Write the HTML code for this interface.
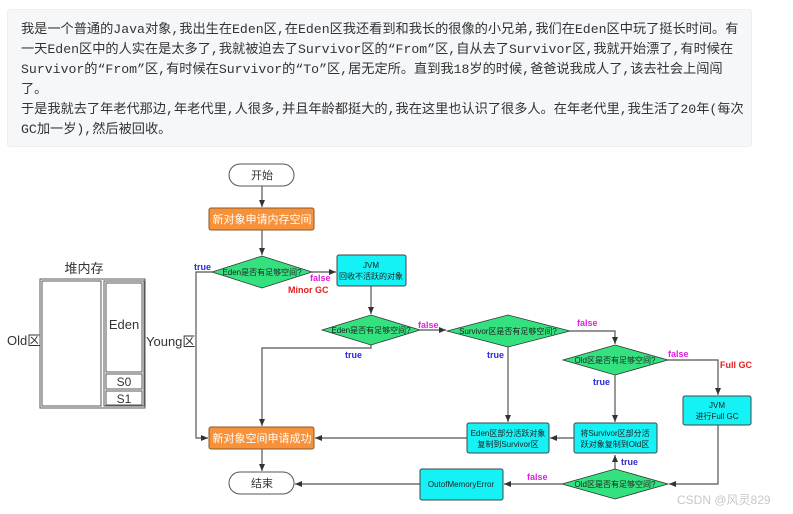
<!DOCTYPE html>
<html><head><meta charset="utf-8"><style>
body{margin:0;width:793px;height:514px;background:#fff;position:relative;overflow:hidden;font-family:"Liberation Sans","Noto Sans CJK SC",sans-serif}
.box{position:absolute;left:7px;top:9px;width:745px;height:138px;background:#f6f7f8;border-radius:3px;border:1px solid #eceef0;box-sizing:border-box}
.t{position:absolute;left:21px;top:20px;font-family:"Liberation Mono","Noto Sans CJK SC",monospace;font-size:13.2px;line-height:20px;color:#333;white-space:nowrap}
svg{position:absolute;left:0;top:0}
</style></head><body>
<div class="box"></div>
<div class="t">我是一个普通的Java对象,我出生在Eden区,在Eden区我还看到和我长的很像的小兄弟,我们在Eden区中玩了挺长时间。有<br>一天Eden区中的人实在是太多了,我就被迫去了Survivor区的“From”区,自从去了Survivor区,我就开始漂了,有时候在<br>Survivor的“From”区,有时候在Survivor的“To”区,居无定所。直到我18岁的时候,爸爸说我成人了,该去社会上闯闯<br>了。<br>于是我就去了年老代那边,年老代里,人很多,并且年龄都挺大的,我在这里也认识了很多人。在年老代里,我生活了20年(每次<br>GC加一岁),然后被回收。</div>
<svg width="793" height="514" viewBox="0 0 793 514" font-family="Liberation Sans,Noto Sans CJK SC,sans-serif">
<defs><marker id="a" markerWidth="8" markerHeight="8" refX="7" refY="4" orient="auto" markerUnits="userSpaceOnUse"><path d="M0,1 L7,4 L0,7 Z" fill="#333"/></marker></defs>
<text x="84" y="273" font-size="13" text-anchor="middle" fill="#333">堆内存</text>
<rect x="40" y="279" width="105" height="129" fill="none" stroke="#555" stroke-width="1"/>
<rect x="42" y="281" width="59" height="125" fill="none" stroke="#555"/>
<rect x="104" y="281" width="40" height="125" fill="none" stroke="#555"/>
<rect x="106" y="283" width="36" height="89" fill="none" stroke="#555"/>
<rect x="106" y="374" width="36" height="15" fill="none" stroke="#555"/>
<rect x="106" y="391" width="36" height="14" fill="none" stroke="#555"/>
<text x="124" y="329" font-size="13" text-anchor="middle" fill="#333">Eden</text>
<text x="124" y="386" font-size="12" text-anchor="middle" fill="#333">S0</text>
<text x="124" y="403" font-size="12" text-anchor="middle" fill="#333">S1</text>
<text x="7" y="345" font-size="13" fill="#333">Old区</text>
<text x="146" y="346" font-size="13" fill="#333">Young区</text>
<g stroke="#555" stroke-width="1.2" fill="none">
<line x1="262" y1="186" x2="262" y2="207" marker-end="url(#a)"/>
<line x1="262" y1="230" x2="262" y2="255" marker-end="url(#a)"/>
<line x1="312" y1="272" x2="336" y2="272" marker-end="url(#a)"/>
<polyline points="212,272 196,272 196,438 208,438" marker-end="url(#a)"/>
<line x1="371" y1="286" x2="371" y2="314" marker-end="url(#a)"/>
<line x1="420" y1="330" x2="446" y2="330" marker-end="url(#a)"/>
<polyline points="371,345 371,348 262,348 262,426" marker-end="url(#a)"/>
<line x1="508" y1="347" x2="508" y2="422" marker-end="url(#a)"/>
<polyline points="570,331 615,331 615,344" marker-end="url(#a)"/>
<polyline points="668,360 718,360 718,395" marker-end="url(#a)"/>
<line x1="615" y1="375" x2="615" y2="422" marker-end="url(#a)"/>
<line x1="574" y1="438" x2="550" y2="438" marker-end="url(#a)"/>
<line x1="467" y1="438" x2="315" y2="438" marker-end="url(#a)"/>
<line x1="262" y1="449" x2="262" y2="471" marker-end="url(#a)"/>
<polyline points="718,425 718,484 669,484" marker-end="url(#a)"/>
<line x1="615" y1="469" x2="615" y2="455" marker-end="url(#a)"/>
<line x1="562" y1="484" x2="504" y2="484" marker-end="url(#a)"/>
<line x1="420" y1="484" x2="295" y2="484" marker-end="url(#a)"/>
</g>
<rect x="229" y="164" width="65" height="22" rx="11" fill="#fff" stroke="#555"/>
<text x="262" y="179" font-size="11" text-anchor="middle" fill="#333">开始</text>
<rect x="209" y="208" width="105" height="22" rx="2" fill="#f7923a" stroke="#8a5a2a"/>
<text x="262" y="223" font-size="11" text-anchor="middle" fill="#fff">新对象申请内存空间</text>
<polygon points="212,272 262,256 312,272 262,288" fill="#33e27f" stroke="#333" stroke-width=".8"/>
<text x="262" y="275" font-size="8" text-anchor="middle" fill="#222">Eden是否有足够空间?</text>
<rect x="337" y="255" width="69" height="31" rx="2" fill="#14f2f5" stroke="#444"/>
<text x="371" y="268" font-size="8" text-anchor="middle" fill="#222">JVM</text>
<text x="371" y="279" font-size="8" text-anchor="middle" fill="#222">回收不活跃的对象</text>
<polygon points="322,330 371,315 420,330 371,345" fill="#33e27f" stroke="#333" stroke-width=".8"/>
<text x="371" y="333" font-size="8" text-anchor="middle" fill="#222">Eden是否有足够空间?</text>
<polygon points="447,331 508,315 570,331 508,347" fill="#33e27f" stroke="#333" stroke-width=".8"/>
<text x="508" y="334" font-size="8" text-anchor="middle" fill="#222">Survivor区是否有足够空间?</text>
<polygon points="563,360 615,345 668,360 615,375" fill="#33e27f" stroke="#333" stroke-width=".8"/>
<text x="615" y="363" font-size="8" text-anchor="middle" fill="#222">Old区是否有足够空间?</text>
<rect x="683" y="396" width="68" height="29" rx="2" fill="#14f2f5" stroke="#444"/>
<text x="717" y="408" font-size="8" text-anchor="middle" fill="#222">JVM</text>
<text x="717" y="419" font-size="8" text-anchor="middle" fill="#222">进行Full GC</text>
<rect x="467" y="423" width="82" height="30" rx="2" fill="#14f2f5" stroke="#444"/>
<text x="508" y="436" font-size="8" text-anchor="middle" fill="#222">Eden区部分活跃对象</text>
<text x="508" y="447" font-size="8" text-anchor="middle" fill="#222">复制到Survivor区</text>
<rect x="574" y="423" width="83" height="30" rx="2" fill="#14f2f5" stroke="#444"/>
<text x="615" y="436" font-size="8" text-anchor="middle" fill="#222">将Survivor区部分活</text>
<text x="615" y="447" font-size="8" text-anchor="middle" fill="#222">跃对象复制到Old区</text>
<rect x="209" y="427" width="105" height="22" rx="2" fill="#f7923a" stroke="#8a5a2a"/>
<text x="262" y="442" font-size="11" text-anchor="middle" fill="#fff">新对象空间申请成功</text>
<polygon points="562,484 615,469 668,484 615,499" fill="#33e27f" stroke="#333" stroke-width=".8"/>
<text x="615" y="487" font-size="8" text-anchor="middle" fill="#222">Old区是否有足够空间?</text>
<rect x="420" y="469" width="83" height="31" rx="2" fill="#14f2f5" stroke="#444"/>
<text x="461" y="487" font-size="8" text-anchor="middle" fill="#222">OutofMemoryError</text>
<rect x="229" y="472" width="65" height="22" rx="11" fill="#fff" stroke="#555"/>
<text x="262" y="487" font-size="11" text-anchor="middle" fill="#333">结束</text>
<g font-size="9" font-weight="bold">
<text x="194" y="270" fill="#2a2ad8">true</text>
<text x="310" y="281" fill="#e020e0">false</text>
<text x="288" y="293" fill="#e02020">Minor GC</text>
<text x="418" y="328" fill="#e020e0">false</text>
<text x="345" y="358" fill="#2a2ad8">true</text>
<text x="577" y="326" fill="#e020e0">false</text>
<text x="487" y="358" fill="#2a2ad8">true</text>
<text x="668" y="357" fill="#e020e0">false</text>
<text x="720" y="368" fill="#e02020">Full GC</text>
<text x="593" y="385" fill="#2a2ad8">true</text>
<text x="621" y="465" fill="#2a2ad8">true</text>
<text x="527" y="480" fill="#e020e0">false</text>
</g>
<text x="677" y="504" font-size="12" fill="#c8c8c8">CSDN @风灵829</text>
</svg>
</body></html>
